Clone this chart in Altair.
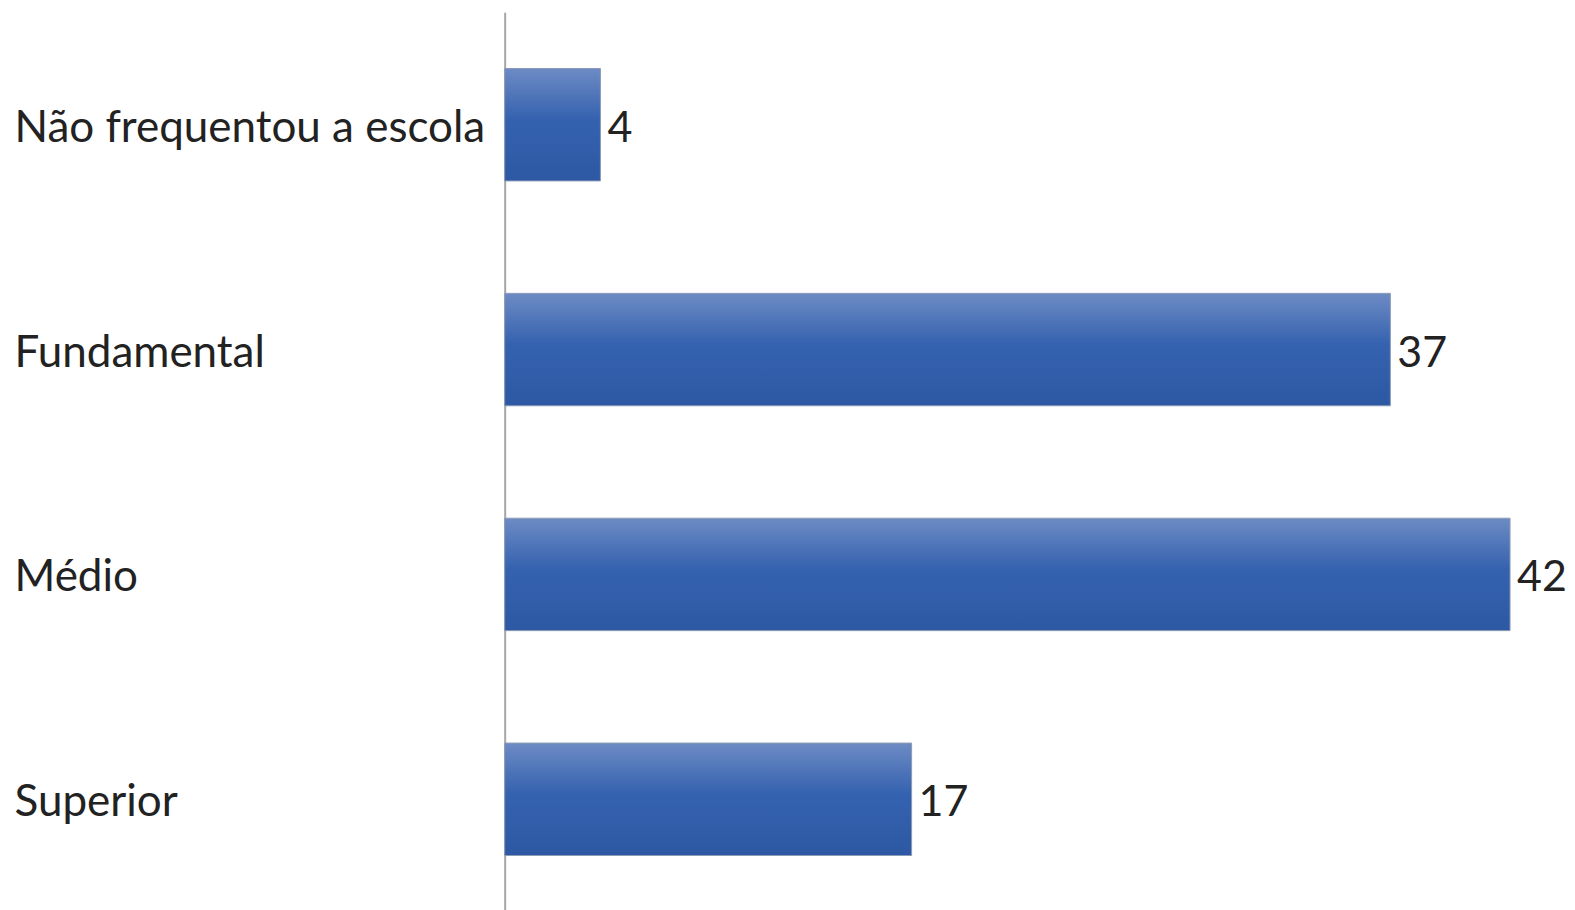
import altair as alt
import pandas as pd

categories = ["Não frequentou a escola", "Fundamental", "Médio", "Superior"]
values = [4, 37, 42, 17]

df = pd.DataFrame({"cat": categories, "val": values})

grad = alt.Gradient(
    gradient="linear", x1=0, x2=0, y1=0, y2=1,
    stops=[
        alt.GradientStop(color="#6D8BC4", offset=0),
        alt.GradientStop(color="#3562AF", offset=0.45),
        alt.GradientStop(color="#2D58A3", offset=1),
    ],
)

FONT = "Lato"
FS = 44

y = alt.Y("cat:N", sort=categories,
          scale=alt.Scale(paddingInner=0.5, paddingOuter=0.25),
          axis=alt.Axis(title=None, labelAlign="left", labelPadding=491, ticks=False,
                        tickSize=0, domainColor="#A6A6A6", domainWidth=2,
                        labelFont=FONT, labelFontSize=FS, labelColor="#222222",
                        labelOffset=4, labelLimit=0, grid=False))
x = alt.X("val:Q", scale=alt.Scale(domain=[0, 42], nice=False, zero=True), axis=None)

bars = alt.Chart(df).mark_bar(color=grad, stroke="#8C9BB5", strokeWidth=1).encode(x=x, y=y)
text = alt.Chart(df).mark_text(align="left", baseline="middle", dx=7, dy=4, font=FONT,
                               fontSize=43, color="#222222").encode(x=x, y=y, text="val:Q")

chart = (bars + text).properties(
    width=1006, height=900, background="white",
    padding={"left": 6, "top": 4, "right": 0, "bottom": 0},
).configure_view(stroke=None, strokeWidth=0)

chart.save("out.html", embed_options={"renderer": "svg", "actions": False})
